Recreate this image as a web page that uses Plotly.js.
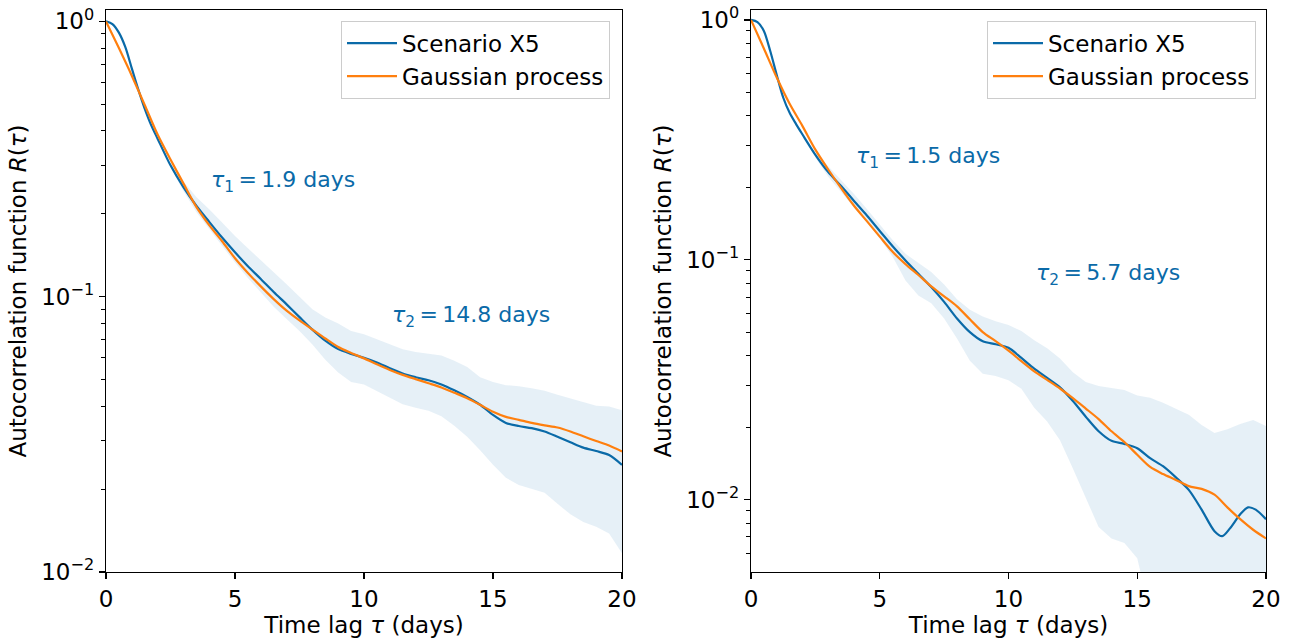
<!DOCTYPE html>
<html>
<head>
<meta charset="utf-8">
<script src="https://cdn.plot.ly/plotly-3.0.1.min.js"></script>
<style>html,body{margin:0;padding:0;background:#fff;}#chart{width:1296px;height:639px;}</style>
</head>
<body>
<div id="chart"></div>
<script>
// ---- data ----
const tau = [0,0.5,1,1.5,2,2.5,3,3.5,4,4.5,5,5.5,6,6.5,7,7.5,8,8.5,9,9.5,10,10.5,11,11.5,12,12.5,13,13.5,14,14.5,15,15.5,16,16.5,17,17.5,18,18.5,19,19.5,20];

const tauBlueLeft = [0,0.25,0.5,0.75,1,1.25,1.5,1.75,2,2.5,3,3.5,4,4.5,5,5.5,6,6.5,7,7.5,8,8.5,9,9.5,10,10.5,11,11.5,12,12.5,13,13.5,14,14.5,15,15.5,16,16.5,17,17.5,18,18.5,19,19.5,20];
const scenarioLeft = [1.0,0.978,0.91,0.806,0.675,0.566,0.482,0.42,0.375,0.30,0.250,0.214,0.187,0.164,0.145,0.129,0.116,0.104,0.0938,0.0843,0.0759,0.0692,0.0645,0.062,0.060,0.0577,0.055,0.0526,0.051,0.0497,0.048,0.0457,0.0432,0.0405,0.0372,0.0348,0.0339,0.0333,0.0324,0.031,0.0296,0.0283,0.0275,0.0266,0.0245];
const gaussLeft = [1.0,0.80,0.635,0.497,0.388,0.315,0.258,0.212,0.182,0.159,0.138,0.122,0.109,0.098,0.089,0.082,0.076,0.0705,0.0657,0.0625,0.0597,0.0568,0.0542,0.052,0.0502,0.0485,0.0468,0.0448,0.0428,0.0405,0.0382,0.0366,0.0357,0.0348,0.0341,0.0335,0.0324,0.0311,0.0299,0.0288,0.0274];

const tauBlueRight = [0,0.25,0.5,0.75,1,1.25,1.5,1.75,2,2.5,3,3.5,4,4.5,5,5.5,6,6.5,7,7.5,8,8.5,9,9.5,10,10.5,11,11.5,12,12.5,13,13.5,14,14.5,15,15.5,16,16.5,17,17.5,18,18.3,18.6,19,19.3,19.6,20];
const scenarioRight = [1.0,0.98,0.90,0.74,0.589,0.475,0.41,0.368,0.333,0.274,0.232,0.203,0.176,0.153,0.132,0.114,0.0995,0.0875,0.077,0.0668,0.057,0.050,0.0458,0.0445,0.043,0.039,0.0352,0.0322,0.0294,0.0258,0.0222,0.0193,0.0176,0.0171,0.0164,0.0149,0.0138,0.0124,0.011,0.0091,0.0074,0.00705,0.0076,0.0087,0.0093,0.0091,0.0083];
const gaussRight = [1.0,0.76,0.575,0.447,0.361,0.288,0.238,0.199,0.168,0.145,0.125,0.108,0.096,0.0865,0.0775,0.0705,0.064,0.0565,0.050,0.0458,0.0418,0.0378,0.0343,0.0316,0.0291,0.0265,0.0240,0.0217,0.0193,0.0174,0.0154,0.0137,0.0128,0.0121,0.0114,0.0111,0.0105,0.0093,0.0083,0.0075,0.0069];

const tauBand = [2.5,3,3.5,4,4.5,5,5.5,6,6.5,7,7.5,8,8.5,9,9.5,10,10.5,11,11.5,12,12.5,13,13.5,14,14.5,15,15.5,16,16.5,17,17.5,18,18.5,19,19.5,20];
const bandLowLeft = [0.295,0.242,0.203,0.176,0.152,0.133,0.117,0.104,0.092,0.083,0.075,0.067,0.059,0.053,0.049,0.048,0.0455,0.0432,0.0407,0.0395,0.0385,0.0368,0.034,0.031,0.0277,0.0245,0.022,0.0207,0.020,0.0194,0.0177,0.0162,0.0152,0.0146,0.0138,0.0117];
const bandHighLeft = [0.305,0.262,0.230,0.208,0.186,0.166,0.150,0.136,0.123,0.111,0.100,0.090,0.084,0.080,0.075,0.073,0.070,0.067,0.0645,0.063,0.0622,0.0612,0.0585,0.0555,0.051,0.049,0.0477,0.0473,0.0465,0.0455,0.044,0.0426,0.0413,0.0402,0.0399,0.0387];
const bandLowRight = [0.267,0.222,0.192,0.165,0.143,0.123,0.103,0.082,0.071,0.066,0.057,0.047,0.038,0.0335,0.0328,0.0315,0.029,0.0242,0.0212,0.0177,0.0135,0.0102,0.0077,0.0069,0.0066,0.0057,0.0035,0.002,0.0015,0.0012,0.0012,0.0012,0.0012,0.0012,0.0012,0.0012];
const bandHighRight = [0.28,0.245,0.216,0.188,0.163,0.141,0.121,0.106,0.097,0.089,0.079,0.0685,0.062,0.058,0.0555,0.0535,0.0505,0.0462,0.0428,0.0388,0.034,0.031,0.0298,0.0292,0.0287,0.0272,0.0266,0.0254,0.024,0.0226,0.0205,0.019,0.0197,0.0207,0.0215,0.0203];

const seriesNames = ["Scenario X5", "Gaussian process"];
const tauLabels = [["τ", "1", "1.9"], ["τ", "2", "14.8"], ["τ", "1", "1.5"], ["τ", "2", "5.7"]];
const xTicks = [0, 5, 10, 15, 20];
const yMajor = [0.01, 0.1, 1];
const yMajorText = ["10<sup>−2</sup>", "10<sup>−1</sup>", "10<sup>0</sup>"];
const yMinor = [0.006,0.007,0.008,0.009,0.02,0.03,0.04,0.05,0.06,0.07,0.08,0.09,0.2,0.3,0.4,0.5,0.6,0.7,0.8,0.9];

// ---- styling ----
const BLUE = "#0a6aa8";
const ORANGE = "#ff7f0e";
const BAND = "rgba(31,119,180,0.11)";
const FONT = "DejaVu Sans";
const FS = 23;

function band(x, lo, hi, xa, ya) {
  return [
    {x: x, y: lo, xaxis: xa, yaxis: ya, mode: "lines", line: {width: 0, color: BAND}, showlegend: false, hoverinfo: "skip"},
    {x: x, y: hi, xaxis: xa, yaxis: ya, mode: "lines", line: {width: 0, color: BAND}, fill: "tonexty", fillcolor: BAND, showlegend: false, hoverinfo: "skip"}
  ];
}
function line(x, y, name, color, xa, ya, leg) {
  return {x: x, y: y, xaxis: xa, yaxis: ya, mode: "lines", name: name, legend: leg,
          line: {color: color, width: 2.2, shape: "spline", smoothing: 0.8}};
}

const traces = [].concat(
  band(tauBand, bandLowLeft, bandHighLeft, "x", "y"),
  [line(tauBlueLeft, scenarioLeft, seriesNames[0], BLUE, "x", "y", "legend"),
   line(tau, gaussLeft, seriesNames[1], ORANGE, "x", "y", "legend")],
  band(tauBand, bandLowRight, bandHighRight, "x2", "y2"),
  [line(tauBlueRight, scenarioRight, seriesNames[0], BLUE, "x2", "y2", "legend2"),
   line(tau, gaussRight, seriesNames[1], ORANGE, "x2", "y2", "legend2")]
);

function xaxis(domain, anchor) {
  return {
    domain: domain, anchor: anchor, range: [0, 20], tickvals: xTicks, ticks: "outside", ticklen: 6, tickwidth: 1.2,
    tickcolor: "#000", showline: true, linecolor: "#000", linewidth: 1.2, mirror: true, showgrid: false, zeroline: false,
    tickfont: {family: FONT, size: FS, color: "#000"},
    title: {text: "Time lag <i>τ</i> (days)", font: {family: FONT, size: FS, color: "#000"}, standoff: 0}
  };
}
function yaxis(anchor, lo) {
  return {
    anchor: anchor, domain: [0, 1], type: "log", range: [Math.log10(lo), Math.log10(1.1)],
    tickvals: yMajor, ticktext: yMajorText, ticks: "outside", ticklen: 6, tickwidth: 1.2, tickcolor: "#000",
    minor: {tickvals: yMinor, ticks: "outside", ticklen: 3.5, tickwidth: 1, tickcolor: "#000", showgrid: false},
    showline: true, linecolor: "#000", linewidth: 1.2, mirror: true, showgrid: false, zeroline: false,
    tickfont: {family: FONT, size: FS, color: "#000"},
    title: {text: "Autocorrelation function <i>R</i>(<i>τ</i>)", font: {family: FONT, size: FS, color: "#000"}, standoff: 8}
  };
}
function ann(x, y, lab, xref, yref) {
  return {x: x, y: Math.log10(y), xref: xref, yref: yref, xanchor: "left", yanchor: "middle", showarrow: false,
          text: "<i>" + lab[0] + "</i><sub>" + lab[1] + "</sub>\u2009=\u2009" + lab[2] + " days",
          font: {family: FONT, size: 22, color: BLUE}};
}
function legend(xr) {
  return {x: xr, y: 0.981, xref: "paper", yref: "paper", xanchor: "right", yanchor: "top", traceorder: "normal",
          bgcolor: "rgba(255,255,255,0.85)", bordercolor: "#cccccc", borderwidth: 1,
          font: {family: FONT, size: FS, color: "#000"}, itemwidth: 50};
}

const layout = {
  width: 1296, height: 639, margin: {l: 0, r: 0, t: 10, b: 67},
  paper_bgcolor: "#fff", plot_bgcolor: "#fff",
  font: {family: FONT, size: FS, color: "#000"},
  xaxis: xaxis([106/1296, 622/1296], "y"),
  yaxis: yaxis("x", 0.01),
  xaxis2: xaxis([751/1296, 1266/1296], "y2"),
  yaxis2: yaxis("x2", 0.005),
  legend: legend(610/1296),
  legend2: legend(1256/1296),
  annotations: [
    ann(4, 0.262, tauLabels[0], "x", "y"),
    ann(11, 0.085, tauLabels[1], "x", "y"),
    ann(4, 0.268, tauLabels[2], "x2", "y2"),
    ann(11, 0.0865, tauLabels[3], "x2", "y2")
  ],
  showlegend: true
};

Plotly.newPlot("chart", traces, layout, {staticPlot: true, displayModeBar: false});
</script>
</body>
</html>
